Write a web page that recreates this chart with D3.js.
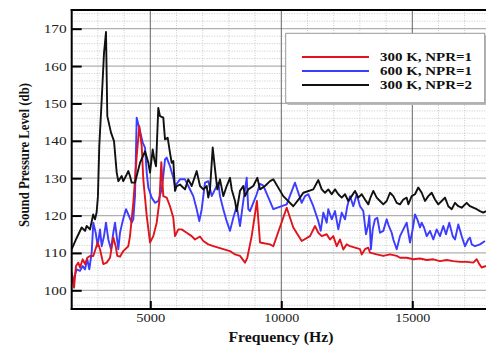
<!DOCTYPE html>
<html><head><meta charset="utf-8">
<script src="https://cdn.jsdelivr.net/npm/d3@7"></script>
<style>body{margin:0;background:#fff}svg{display:block}</style>
</head><body>
<svg id="c" width="486" height="346"></svg>
<script>
const seriesNames = ["300 K, NPR=1", "600 K, NPR=1", "300 K, NPR=2"];
const xTicks = [5000, 10000, 15000];
const yTicks = [100, 110, 120, 130, 140, 150, 160, 170];

const redFreq = [2000,2088,2164,2252,2317,2420,2508,2595,2698,2824,2992,3080,3206,3336,3462,3588,3679,3740,3844,3969,4160,4225,4351,4416,4481,4580,4672,4733,4863,4989,5115,5244,5350,5420,5496,5626,5752,5878,5943,6069,6198,6389,6580,6706,6897,7023,7214,7405,7595,7786,8042,8233,8424,8615,8702,8870,9070,9187,9569,9695,10206,10458,10779,11096,11287,11413,11543,11733,11859,11985,12115,12241,12367,12497,12622,12813,13004,13069,13194,13321,13386,13641,13893,14149,14405,14531,14786,15039,15294,15550,15802,16057,16313,16565,16821,17076,17328,17458,17557,17649,17813];
const redSPL = [104.7,100.7,106.5,107.4,106.1,108.3,107,108.7,109.2,109.2,112.8,111,107,107.4,108.7,114.1,111.8,109.2,109,110.5,111.8,114.5,123.4,129.7,135.9,143.9,138.6,129.7,119.9,112.8,114.5,118.1,124,134.3,125.2,124.8,122.5,119.4,114.5,116.3,116.3,115.4,114.5,113.6,114.4,113.2,112.3,111.8,111.4,111,110.5,109.6,109.2,107.4,108.7,114.5,123.9,112.8,112.3,111.8,122.1,116.8,113.2,114.5,117.2,115.4,114.5,115,113.6,114.5,111.8,113.6,110.9,112.3,111.8,111.4,111,109.6,111,111.4,110.1,109.6,109.2,109.6,109.2,108.7,108.7,108.3,108.5,108.1,108.3,107.8,108.1,107.8,107.6,107.6,107.4,108.3,107,106.1,106.5];

const blueFreq = [2000,2088,2191,2317,2420,2508,2595,2672,2763,2824,2916,2992,3080,3145,3233,3309,3397,3500,3588,3653,3718,3779,3844,3931,3996,4073,4160,4290,4351,4416,4481,4607,4710,4798,4863,4924,5053,5179,5305,5435,5496,5561,5626,5752,5878,5943,6134,6324,6450,6641,6771,6870,6962,7088,7214,7344,7470,7595,7660,7786,7916,8042,8168,8298,8424,8550,8680,8740,8805,8931,9061,9187,9313,9695,10206,10523,10649,10779,10905,11031,11222,11413,11504,11604,11733,11794,11924,12050,12176,12306,12432,12519,12622,12748,12878,13004,13130,13233,13321,13360,13420,13489,13576,13664,13767,13893,14023,14084,14214,14275,14405,14531,14657,14786,14848,14913,15015,15103,15191,15294,15359,15447,15550,15676,15802,15931,16057,16183,16286,16412,16542,16630,16756,16885,17011,17137,17202,17267,17393,17583,17775];
const blueSPL = [102.1,103.4,105.6,105.2,106.5,105.6,108.3,105.6,110.1,118.1,115.4,111.8,116.3,111.8,114.5,118.1,113.6,111,115.4,118.1,114.5,111,115.4,118.1,119.9,121.7,120.3,118.1,119,125.2,146.2,142.6,139.5,138.2,131.5,127.5,124.8,123.4,123.9,127,130.6,135,135.5,133.2,130.1,127.9,129.7,129.7,127.9,125.2,121.7,118.5,121.7,128.8,129.2,125.2,127,128.8,125.2,121.7,118.5,115.9,119.4,122.5,117.2,123.9,130.1,121.7,121.2,123.4,125.7,128.5,128,121.7,123,128.8,126.1,123.4,125.2,125.7,122.5,118.5,115.9,120.8,118.1,121.7,119,121.2,116.3,120.8,119,122.5,125.2,122.5,125.7,122.5,121.2,115,117.6,120,111,116.3,119,119.4,115.4,115.9,119,117.6,115.4,113.6,111,114.5,116.3,118.1,115.4,112.8,116.3,120.3,119,116.8,118.1,116.8,114.5,115.9,113.6,116.3,114.5,117.2,115,118.1,114.5,113.6,117.6,114.5,111.8,113.6,114.1,112.3,111.8,112.3,113.2];

const blackFreq = [2000,2190,2380,2510,2570,2700,2820,2890,2950,3000,3053,3145,3233,3309,3359,3500,3615,3718,3779,3908,3969,4099,4160,4225,4290,4416,4607,4798,4924,4989,5092,5153,5218,5305,5370,5496,5561,5664,5752,5817,5878,5943,6008,6134,6324,6450,6580,6771,6897,7023,7153,7214,7279,7382,7470,7557,7660,7786,7916,8042,8107,8233,8298,8424,8550,8615,8740,8931,9084,9187,9378,9569,9695,10076,10458,10714,10840,11222,11413,11543,11668,11794,11924,12050,12176,12306,12432,12557,12687,12813,12939,13069,13194,13321,13386,13512,13641,13767,13893,14023,14149,14275,14405,14531,14657,14786,14848,14977,15103,15229,15359,15485,15611,15740,15866,15993,16122,16248,16374,16504,16630,16756,16885,17076,17202,17328,17458,17583,17710,17813];
const blackSPL = [111,114,116.8,115.9,117.2,116.3,120.3,119,120.8,125,138.6,151,163.5,169.1,146.6,142.2,139.9,131.5,129.2,130.6,129.2,131,131.9,130.6,128.8,128.8,134.1,137.2,134.1,131.5,137.7,135,133.2,148.8,146.6,146.2,140.4,140.8,136.8,134.1,134.6,126.6,127.9,128.3,127,129.7,127.9,131.9,127.9,127,127.9,124.8,127,138.2,132.4,127,129.7,125.2,127.9,130.1,127,123.9,121.2,126.6,127.9,125.2,127,127.9,130.1,127,127.9,129.2,129.7,125.2,122.5,124.8,126.1,127,129.5,127,126.1,127,125.7,127,125.7,124.8,125.7,123.9,125.2,126.6,124.8,125.7,124.3,123,124.5,126.6,124.8,123.9,123,123.9,126.1,125.2,123.4,123,124.3,124.8,123,125.2,125.7,127.5,126.1,123.9,125.2,126.1,124.3,123,123.9,124.8,122.5,121.7,123.4,122.5,122.1,123.4,122.5,122.1,121.7,121.2,120.8,121.2];

const colors = ["#e0141c", "#3c3cff", "#111111"];

const svg = d3.select("#c");
const L = 71.7, R = 490.9, T = 10, B = 309;
const x = d3.scaleLinear().domain([2000, 18000]).range([L, R]);
const y = d3.scaleLinear().domain([95, 175]).range([B, T]);
const serif = "'Liberation Serif','Times New Roman',serif";

// minor grid
const g = svg.append("g");
g.selectAll(".mx").data(d3.range(3000, 18001, 1000).filter(v => v % 5000 !== 0)).join("line")
  .attr("x1", d => x(d)).attr("x2", d => x(d)).attr("y1", T).attr("y2", B)
  .attr("stroke", "#bdbdbd").attr("stroke-width", 0.8).attr("stroke-dasharray", "1,1.5");
g.selectAll(".my").data(d3.range(96, 175, 2).filter(v => v % 10 !== 0)).join("line")
  .attr("x1", L).attr("x2", R).attr("y1", d => y(d)).attr("y2", d => y(d))
  .attr("stroke", "#bdbdbd").attr("stroke-width", 0.8).attr("stroke-dasharray", "1,1.5");
// major grid
g.selectAll(".My").data(yTicks).join("line")
  .attr("x1", L).attr("x2", R).attr("y1", d => y(d)).attr("y2", d => y(d))
  .attr("stroke", "#b0b0b0").attr("stroke-width", 1.3);
g.selectAll(".Mx").data(xTicks).join("line")
  .attr("x1", d => x(d)).attr("x2", d => x(d)).attr("y1", T).attr("y2", B)
  .attr("stroke", "#555").attr("stroke-width", 0.9);

// lines
svg.append("clipPath").attr("id", "clip").append("rect")
  .attr("x", L).attr("y", T).attr("width", R - L).attr("height", B - T);
const line = d3.line().x(d => x(d[0])).y(d => y(d[1]));
const data = [
  d3.zip(redFreq, redSPL),
  d3.zip(blueFreq, blueSPL),
  d3.zip(blackFreq, blackSPL)
];
const lg = svg.append("g").attr("clip-path", "url(#clip)");
[1, 0, 2].forEach(i => {
  lg.append("path").attr("d", line(data[i])).attr("fill", "none")
    .attr("stroke", colors[i]).attr("stroke-width", 1.9).attr("stroke-linejoin", "round");
});

// axes frame
const xAxis = d3.axisBottom(x).tickValues(xTicks).tickSize(-8).tickPadding(0).tickFormat(d3.format("d"));
const xa = svg.append("g").attr("transform", `translate(0,${B})`).call(xAxis);
xa.select(".domain").remove();
xa.selectAll(".tick line").attr("stroke", "#000").attr("stroke-width", 2);
xa.selectAll(".tick text").attr("font-family", serif).attr("font-size", 12).attr("fill", "#222")
  .attr("y", 13).attr("dy", 0)
  .attr("textLength", d => d < 10000 ? 29 : 35).attr("lengthAdjust", "spacingAndGlyphs");

const yAxis = d3.axisLeft(y).tickValues(yTicks).tickSize(-10).tickPadding(0);
const ya = svg.append("g").attr("transform", `translate(${L},0)`).call(yAxis);
ya.select(".domain").remove();
ya.selectAll(".tick line").attr("stroke", "#000").attr("stroke-width", 2);
ya.selectAll(".tick text").attr("font-family", serif).attr("font-size", 12).attr("fill", "#222")
  .attr("x", -5).attr("dy", 4).attr("textLength", 23).attr("lengthAdjust", "spacingAndGlyphs");

svg.append("line").attr("x1", L).attr("x2", L).attr("y1", T - 1).attr("y2", B + 1).attr("stroke", "#000").attr("stroke-width", 2);
svg.append("line").attr("x1", L - 1).attr("x2", 486).attr("y1", B).attr("y2", B).attr("stroke", "#000").attr("stroke-width", 2);
svg.append("line").attr("x1", L - 1).attr("x2", 486).attr("y1", T).attr("y2", T).attr("stroke", "#000").attr("stroke-width", 2);

// axis titles
svg.append("text").attr("x", 281).attr("y", 342).attr("text-anchor", "middle")
  .attr("font-family", serif).attr("font-weight", "bold").attr("font-size", 14)
  .attr("textLength", 105).attr("lengthAdjust", "spacingAndGlyphs").attr("fill", "#111")
  .text("Frequency (Hz)");
svg.append("text").attr("transform", "translate(29,155) rotate(-90)").attr("text-anchor", "middle")
  .attr("font-family", serif).attr("font-weight", "bold").attr("font-size", 14)
  .attr("textLength", 144).attr("lengthAdjust", "spacingAndGlyphs").attr("fill", "#111")
  .text("Sound Pressure Level (db)");

// legend
const lgd = svg.append("g");
lgd.append("rect").attr("x", 287.5).attr("y", 35).attr("width", 200).attr("height", 70).attr("fill", "#bbb");
lgd.append("rect").attr("x", 285.7).attr("y", 33.3).attr("width", 199).attr("height", 69.5)
  .attr("fill", "#fff").attr("stroke", "#999").attr("stroke-width", 1);
seriesNames.forEach((n, i) => {
  const yy = 57 + i * 14;
  lgd.append("line").attr("x1", 302).attr("x2", 369).attr("y1", yy).attr("y2", yy)
    .attr("stroke", colors[i]).attr("stroke-width", 1.9);
  lgd.append("text").attr("x", 380).attr("y", yy + 4.3).attr("font-family", serif)
    .attr("font-weight", "bold").attr("font-size", 12.5).attr("fill", "#111")
    .attr("textLength", 92).attr("lengthAdjust", "spacingAndGlyphs").text(n);
});
</script>
</body></html>
